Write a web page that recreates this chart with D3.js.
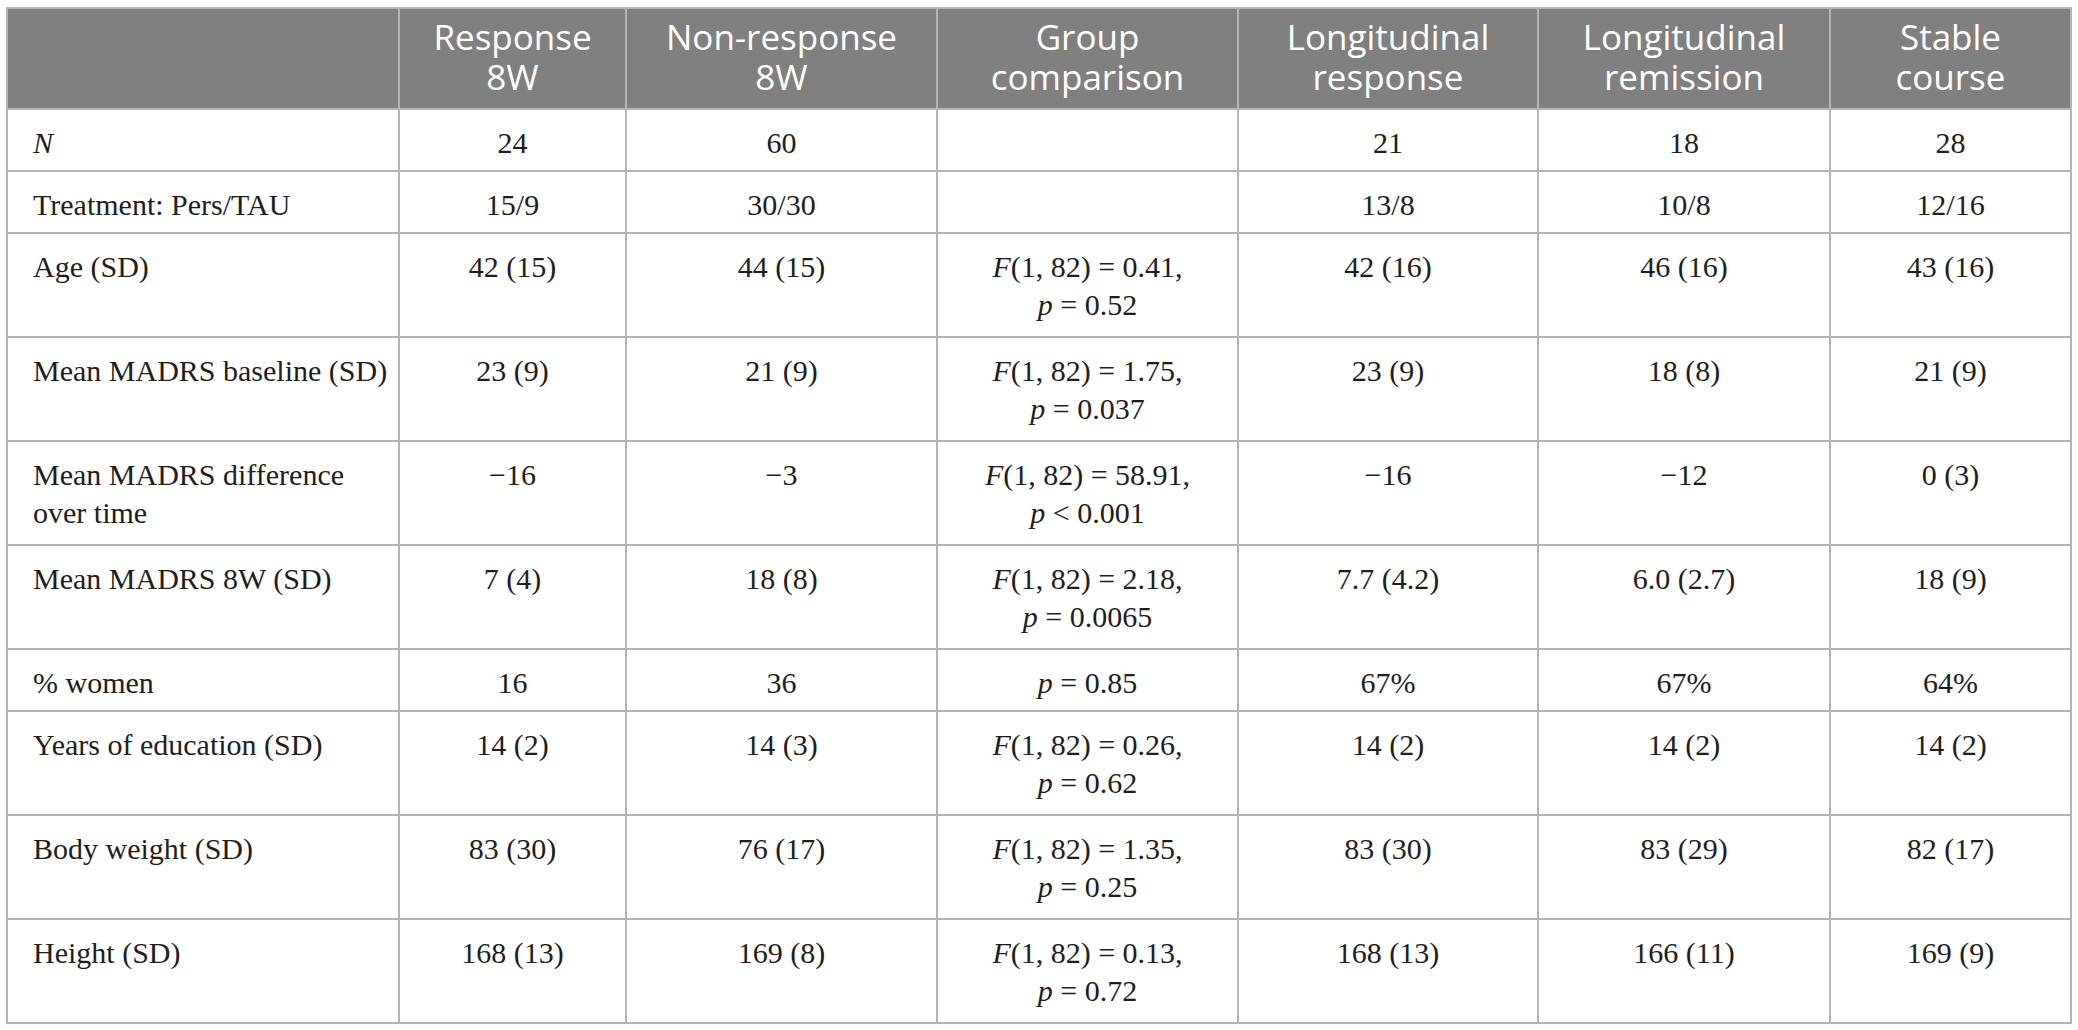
<!DOCTYPE html>
<html>
<head>
<meta charset="utf-8">
<script src="https://cdn.jsdelivr.net/npm/d3@7"></script>
<style>
	body { margin: 0; background: #ffffff; }
	svg { display: block; }
</style>
</head>
<body>
<svg id="canvas" width="2078" height="1030"></svg>
<script>
// header labels, "\n" breaks a line
var headers = ["", "Response\n8W", "Non-response\n8W", "Group\ncomparison", "Longitudinal\nresponse", "Longitudinal\nremission", "Stable\ncourse"];

// row labels, *text* is italic
var rowLabels = ["*N*", "Treatment: Pers/TAU", "Age (SD)", "Mean MADRS baseline (SD)", "Mean MADRS difference\nover time", "Mean MADRS 8W (SD)", "% women", "Years of education (SD)", "Body weight (SD)", "Height (SD)"];

var response8w = ["24", "15/9", "42 (15)", "23 (9)", "\u221216", "7 (4)", "16", "14 (2)", "83 (30)", "168 (13)"];
var nonResponse8w = ["60", "30/30", "44 (15)", "21 (9)", "\u22123", "18 (8)", "36", "14 (3)", "76 (17)", "169 (8)"];
var groupComparison = [
	"",
	"",
	"*F*(1, 82) = 0.41,\n*p* = 0.52",
	"*F*(1, 82) = 1.75,\n*p* = 0.037",
	"*F*(1, 82) = 58.91,\n*p* < 0.001",
	"*F*(1, 82) = 2.18,\n*p* = 0.0065",
	"*p* = 0.85",
	"*F*(1, 82) = 0.26,\n*p* = 0.62",
	"*F*(1, 82) = 1.35,\n*p* = 0.25",
	"*F*(1, 82) = 0.13,\n*p* = 0.72"
];
var longResponse = ["21", "13/8", "42 (16)", "23 (9)", "\u221216", "7.7 (4.2)", "67%", "14 (2)", "83 (30)", "168 (13)"];
var longRemission = ["18", "10/8", "46 (16)", "18 (8)", "\u221212", "6.0 (2.7)", "67%", "14 (2)", "83 (29)", "166 (11)"];
var stableCourse = ["28", "12/16", "43 (16)", "21 (9)", "0 (3)", "18 (9)", "64%", "14 (2)", "82 (17)", "169 (9)"];

function draw(){
	var svg = d3.select("#canvas");
	var colWidths = [392, 227, 311, 301, 300, 292, 241];
	var left = 7, top = 8, headH = 101;
	var lineStep = 38;
	var columns = [rowLabels, response8w, nonResponse8w, groupComparison, longResponse, longRemission, stableCourse];

	// build rows of cells
	var rows = rowLabels.map(function(d, i){
		return columns.map(function(c){ return c[i]; });
	});
	var rowHeights = rows.map(function(r){
		var n = d3.max(r, function(c){ return c.split("\n").length; });
		return n > 1 ? 104 : 62;
	});

	var colStarts = [left];
	colWidths.forEach(function(w, i){ colStarts.push(colStarts[i] + w); });
	var rowStarts = [top + headH];
	rowHeights.forEach(function(h, i){ rowStarts.push(rowStarts[i] + h); });
	var right = colStarts[colStarts.length - 1];
	var bottom = rowStarts[rowStarts.length - 1];

	var x = d3.scaleOrdinal().domain(d3.range(colWidths.length)).range(colStarts);
	var y = d3.scaleOrdinal().domain(d3.range(rows.length)).range(rowStarts);

	// header background
	svg.append("rect")
		.attr("x", left).attr("y", top)
		.attr("width", right - left).attr("height", headH)
		.attr("fill", "#808080");

	// header text, one text per line
	var headLines = [];
	headers.forEach(function(d, i){
		if(d === "") return;
		d.split("\n").forEach(function(line, k){
			headLines.push({text: line, ci: i, k: k});
		});
	});
	svg.selectAll("text.head")
		.data(headLines)
		.enter()
		.append("text")
			.attr("class", "head")
			.attr("text-anchor", "middle")
			.attr("x", function(d){ return x(d.ci) + colWidths[d.ci] / 2; })
			.attr("y", function(d){ return top + 42 + d.k * 40; })
			.attr("style", "font-family: 'Open Sans', sans-serif; font-size: 35px; fill: #ffffff;")
			.text(function(d){ return d.text; });

	// body cells
	var rowG = svg.selectAll("g.row")
		.data(rows)
		.enter()
		.append("g")
			.attr("class", "row");

	rowG.selectAll("text")
		.data(function(r, ri){
			return r.map(function(c, ci){ return {text: c, ri: ri, ci: ci}; });
		})
		.enter()
		.append("text")
			.attr("text-anchor", function(d){ return d.ci == 0 ? "start" : "middle"; })
			.attr("style", "font-family: 'Liberation Serif', 'Times New Roman', serif; font-size: 30px; fill: #1e1e1e;")
			.each(function(d){
				var t = d3.select(this);
				var cx = d.ci == 0 ? x(0) + 26 : x(d.ci) + colWidths[d.ci] / 2;
				d.text.split("\n").forEach(function(line, k){
					var parts = line.split("*");
					parts.forEach(function(p, j){
						if(p === "") return;
						var s = t.append("tspan").text(p);
						if(j % 2 == 1) s.attr("font-style", "italic");
						if(j == 0 || (j == 1 && parts[0] === "")){
							s.attr("x", cx).attr("y", y(d.ri) + 44 + k * lineStep);
						}
					});
				});
			});

	// grid lines
	var lineStyle = "stroke: #b4b4b4; stroke-width: 2;";
	var hLines = [top + headH].concat(rowStarts.slice(1, -1));
	svg.selectAll("line.h")
		.data(hLines)
		.enter()
		.append("line")
			.attr("class", "h")
			.attr("x1", left).attr("x2", right)
			.attr("y1", function(d){ return d; })
			.attr("y2", function(d){ return d; })
			.attr("style", lineStyle);

	svg.selectAll("line.v")
		.data(colStarts.slice(1, -1))
		.enter()
		.append("line")
			.attr("class", "v")
			.attr("x1", function(d){ return d; })
			.attr("x2", function(d){ return d; })
			.attr("y1", top).attr("y2", bottom)
			.attr("style", lineStyle);

	svg.append("rect")
		.attr("x", left).attr("y", top)
		.attr("width", right - left).attr("height", bottom - top)
		.attr("fill", "none")
		.attr("style", lineStyle);
}

draw();
</script>
</body>
</html>
